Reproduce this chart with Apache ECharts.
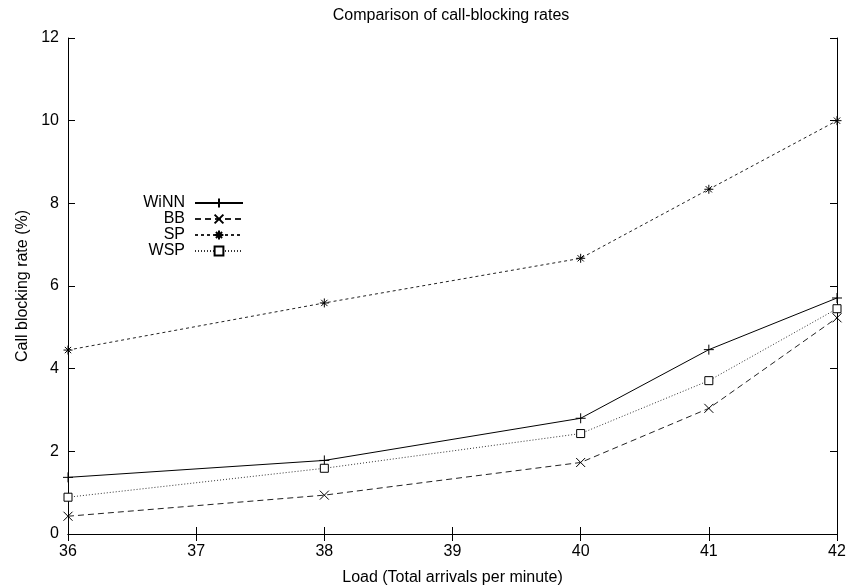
<!DOCTYPE html>
<html>
<head>
<meta charset="utf-8">
<script src="https://cdn.jsdelivr.net/npm/echarts@6/dist/echarts.min.js"></script>
<style>
  html, body { margin: 0; padding: 0; background: #fff; }
  #chart { width: 848px; height: 586px; }
</style>
</head>
<body>
<div id="chart"></div>
<script>
// load points (total arrivals per minute)
const loads = [36, 38, 40, 41, 42];

// call blocking rate (%) per method
const winn = [1.37, 1.78, 2.8, 4.46, 5.71];
const bb = [0.43, 0.94, 1.73, 3.04, 5.23];
const sp = [4.45, 5.59, 6.67, 8.34, 10.0];
const wsp = [0.89, 1.59, 2.43, 3.71, 5.45];

const xTicks = [36, 37, 38, 39, 40, 41, 42];
const yTicks = [0, 2, 4, 6, 8, 10, 12];

const font = "Liberation Sans, Arial, sans-serif";
const fs = 16;

function pairs(ys) {
  return loads.map((x, i) => [x, ys[i]]);
}

// marker shapes drawn as strokes
const plusSym = "path://M0,5L10,5M5,0L5,10";
const crossSym = "path://M0,0L10,10M10,0L0,10";
const starSym = "path://M0,5L10,5M5,0L5,10M1.5,1.5L8.5,8.5M8.5,1.5L1.5,8.5";
const boxSym = "path://M0,0L10,0L10,10L0,10Z";

function markSeries(name, ys, sym, size, lineType, color, fill) {
  return {
    name: name,
    type: "line",
    data: pairs(ys),
    symbol: sym,
    symbolSize: size,
    showAllSymbol: true,
    lineStyle: { color: color, width: 1, type: lineType },
    itemStyle: { color: fill, borderColor: "#000", borderWidth: 1 },
    emphasis: { disabled: true },
    animation: false
  };
}

const chart = echarts.init(document.getElementById("chart"));

const axisCommon = {
  type: "value",
  axisLine: { show: true, lineStyle: { color: "#000", width: 1 } },
  axisTick: { show: true, inside: true, length: 7, lineStyle: { color: "#000" } },
  splitLine: { show: false }
};

chart.setOption({
  backgroundColor: "#fff",
  animation: false,
  title: {
    text: "Comparison of call-blocking rates",
    left: 446,
    top: 3,
    textAlign: "center",
    textStyle: { fontFamily: font, fontSize: fs, fontWeight: "normal", color: "#000" }
  },
  legend: {
    orient: "vertical",
    left: 130,
    top: 190,
    align: "right",
    itemGap: 0,
    itemWidth: 48,
    itemHeight: 11,
    textStyle: {
      fontFamily: font, fontSize: fs, lineHeight: 16, color: "#000",
      width: 50, align: "right", padding: [0, 5, 0, 0]
    },
    data: ["WiNN", "BB", "SP", "WSP"]
  },
  grid: { left: 68, right: 11, top: 38, bottom: 52, outerBoundsMode: "none", containLabel: false },
  xAxis: [
    Object.assign({}, axisCommon, {
      position: "bottom",
      min: 36, max: 42, interval: 1,
      name: "Load (Total arrivals per minute)",
      nameLocation: "middle",
      nameGap: 36,
      nameTextStyle: { fontFamily: font, fontSize: fs, color: "#000" },
      axisLabel: {
        fontFamily: font, fontSize: fs, color: "#000", margin: 10,
        formatter: (v) => (xTicks.indexOf(v) >= 0 ? String(v) : "")
      }
    }),
    Object.assign({}, axisCommon, {
      position: "top",
      min: 36, max: 42, interval: 1,
      axisLabel: { show: false }
    })
  ],
  yAxis: [
    Object.assign({}, axisCommon, {
      position: "left",
      min: 0, max: 12, interval: 2,
      name: "Call blocking rate (%)",
      nameLocation: "middle",
      nameGap: 23,
      nameRotate: 90,
      nameTextStyle: { fontFamily: font, fontSize: fs, color: "#000" },
      axisLabel: {
        fontFamily: font, fontSize: fs, color: "#000", margin: 9,
        formatter: (v) => (yTicks.indexOf(v) >= 0 ? String(v) : "")
      }
    }),
    Object.assign({}, axisCommon, {
      position: "right",
      min: 0, max: 12, interval: 2,
      axisLabel: { show: false }
    })
  ],
  series: [
    markSeries("WiNN", winn, plusSym, 10, "solid", "#000", "none"),
    markSeries("BB", bb, crossSym, 9, [6, 4], "#222", "none"),
    markSeries("SP", sp, starSym, 9, [3, 3], "#222", "none"),
    markSeries("WSP", wsp, boxSym, 8, [1, 2], "#333", "#fff")
  ]
});
</script>
</body>
</html>
